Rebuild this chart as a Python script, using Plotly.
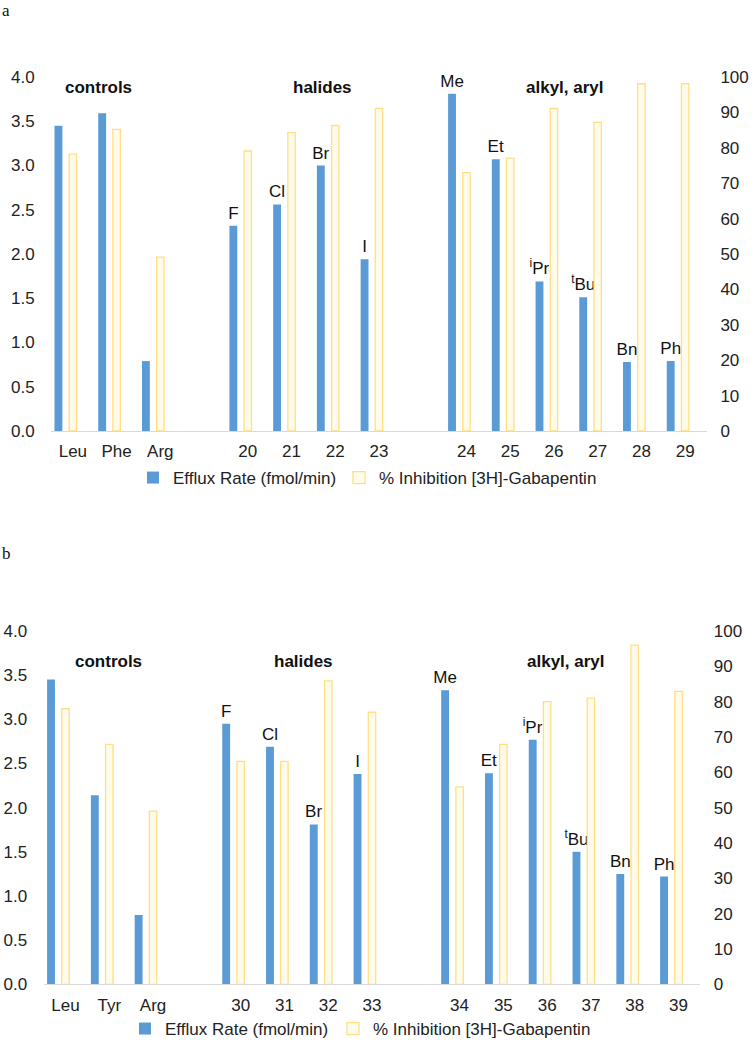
import plotly.graph_objects as go

# ---------------- data ----------------
a_groups = [["Leu", "Phe", "Arg"], ["20", "21", "22", "23"], ["24", "25", "26", "27", "28", "29"]]
a_efflux = [3.45, 3.59, 0.79, 2.32, 2.56, 3.00, 1.94, 3.81, 3.07, 1.69, 1.51, 0.78, 0.79]
a_inhib = [78.2, 85.2, 49.1, 79.1, 84.3, 86.3, 91.1, 73.0, 77.1, 91.1, 87.2, 98.1, 98.1]
a_subst = [None, None, None, "F", "Cl", "Br", "I", "Me", "Et", "<sup>i</sup>Pr", "<sup>t</sup>Bu", "Bn", "Ph"]

b_groups = [["Leu", "Tyr", "Arg"], ["30", "31", "32", "33"], ["34", "35", "36", "37", "38", "39"]]
b_efflux = [3.45, 2.14, 0.785, 2.95, 2.69, 1.81, 2.38, 3.33, 2.39, 2.77, 1.50, 1.25, 1.22]
b_inhib = [78.0, 67.9, 49.0, 63.1, 63.1, 85.9, 77.0, 55.9, 67.9, 80.0, 81.0, 96.0, 82.9]
b_subst = [None, None, None, "F", "Cl", "Br", "I", "Me", "Et", "<sup>i</sup>Pr", "<sup>t</sup>Bu", "Bn", "Ph"]

group_names = ["controls", "halides", "alkyl, aryl"]
left_ticks = [0, 0.5, 1.0, 1.5, 2.0, 2.5, 3.0, 3.5, 4.0]
right_ticks = [0, 10, 20, 30, 40, 50, 60, 70, 80, 90, 100]

name_efflux = "Efflux Rate (fmol/min)"
name_inhib = "% Inhibition [3H]-Gabapentin"

BLUE = "#5B9BD5"
YFILL = "#FFFBEA"
YLINE = "#FFDF85"
FONT = "Arial, Liberation Sans, sans-serif"
W, H = 754, 1043


def build_cats(groups):
    cats, flat = [], []
    for i, g in enumerate(groups):
        if i > 0:
            cats.append(" " * i)
        cats.extend(g)
        flat.extend(g)
    return cats, flat


a_cats, a_x = build_cats(a_groups)
b_cats, b_x = build_cats(b_groups)

fig = go.Figure()

panels = [
    dict(x=a_x, eff=a_efflux, inh=a_inhib, sub=a_subst, xa="x", ya="y", ya2="y2",
         leg1="legend", leg2="legend2"),
    dict(x=b_x, eff=b_efflux, inh=b_inhib, sub=b_subst, xa="x2", ya="y3", ya2="y4",
         leg1="legend3", leg2="legend4"),
]
for p in panels:
    fig.add_trace(go.Bar(
        x=p["x"], y=p["eff"], name=name_efflux, xaxis=p["xa"], yaxis=p["ya"],
        marker=dict(color=BLUE, line=dict(width=0)),
        width=0.18, offset=-0.42,
        text=p["sub"], textposition="outside", textangle=0, constraintext="none",
        textfont=dict(family=FONT, size=17, color="#111"), cliponaxis=False,
        legend=p["leg1"], showlegend=True, hoverinfo="skip",
    ))
    fig.add_trace(go.Bar(
        x=p["x"], y=p["inh"], name=name_inhib, xaxis=p["xa"], yaxis=p["ya2"],
        marker=dict(color=YFILL, line=dict(color=YLINE, width=1.3)),
        width=0.17, offset=-0.085,
        legend=p["leg2"], showlegend=True, hoverinfo="skip",
    ))


def px_x(v):
    return v / W


def px_y(v):
    return 1 - v / H


tickfont = dict(family=FONT, size=17, color="#222")
common_x = dict(type="category", range=[-0.5, 14.5], showgrid=False, zeroline=False,
                showline=True, linecolor="#D9D9D9", linewidth=1, automargin=False,
                ticks="outside", ticklen=5, tickcolor="rgba(0,0,0,0)", tickfont=tickfont)
common_yl = dict(range=[0, 4], tickvals=left_ticks, tickformat=".1f", showgrid=False,
                 zeroline=False, showline=False, ticks="outside", ticklen=12, automargin=False,
                 tickcolor="rgba(0,0,0,0)", tickfont=tickfont)
common_yr = dict(range=[0, 100], tickvals=right_ticks, showgrid=False, zeroline=False,
                 showline=False, ticks="outside", ticklen=9, tickcolor="rgba(0,0,0,0)",
                 automargin=False, tickfont=tickfont, side="right")

legfont = dict(family=FONT, size=17, color="#222")


def leg(xp, yp):
    return dict(orientation="h", x=px_x(xp), y=px_y(yp), xanchor="left", yanchor="middle",
                font=legfont, bgcolor="rgba(0,0,0,0)", visible=True)


fig.update_layout(
    width=W, height=H, margin=dict(l=0, r=0, t=0, b=0, autoexpand=False),
    paper_bgcolor="white", plot_bgcolor="white", barmode="overlay",
    font=dict(family=FONT, color="#222"), showlegend=True,
    xaxis=dict(common_x, domain=[px_x(51), px_x(707)], categoryorder="array",
               categoryarray=a_cats, tickvals=a_x, ticktext=a_x, anchor="y"),
    yaxis=dict(common_yl, domain=[px_y(431), px_y(77)], anchor="x"),
    yaxis2=dict(common_yr, overlaying="y", anchor="x"),
    xaxis2=dict(common_x, domain=[px_x(43.6), px_x(700.4)], categoryorder="array",
                categoryarray=b_cats, tickvals=b_x, ticktext=b_x, anchor="y3"),
    yaxis3=dict(common_yl, domain=[px_y(984.3), px_y(631)], anchor="x2"),
    yaxis4=dict(common_yr, overlaying="y3", anchor="x2"),
    legend=leg(133, 478),
    legend2=leg(339, 478),
    legend3=leg(125, 1029),
    legend4=leg(333, 1029),
)

# group labels (pixel centres)
a_label_pos = [(98.5, 88), (322, 88), (565, 88)]
b_label_pos = [(108.7, 661), (303, 661), (566, 661)]
for name, (xp, yp) in list(zip(group_names, a_label_pos)) + list(zip(group_names, b_label_pos)):
    fig.add_annotation(x=px_x(xp), y=px_y(yp), xref="paper", yref="paper", text="<b>" + name + "</b>",
                       showarrow=False, xanchor="center", yanchor="middle",
                       font=dict(family=FONT, size=17, color="#111"))

for lbl, (xp, yp) in [("a", (1, 0)), ("b", (1, 543))]:
    fig.add_annotation(x=px_x(xp), y=px_y(yp), xref="paper", yref="paper", text=lbl,
                       showarrow=False, xanchor="left", yanchor="top", borderpad=0,
                       font=dict(family="Liberation Serif, Times New Roman, serif", size=17, color="#111"))

fig.write_html("out.html", config={"displayModeBar": False},
               post_script="document.body.style.margin='0';")
